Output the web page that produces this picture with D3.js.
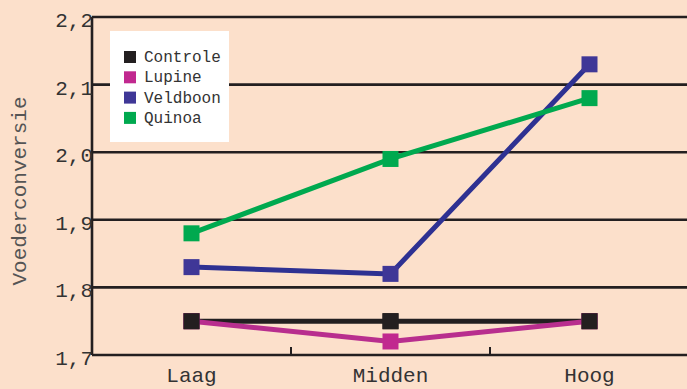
<!DOCTYPE html>
<html>
<head>
<meta charset="utf-8">
<script src="https://cdn.jsdelivr.net/npm/d3@7"></script>
<style>
  body { margin: 0; background: #fce0cb; }
  svg { display: block; }
  text { font-family: "Liberation Mono", "DejaVu Sans Mono", monospace; fill: #333; }
</style>
</head>
<body>
<div id="chart"></div>
<script>
const categories = ['Laag', 'Midden', 'Hoog'];
const seriesNames = ['Controle', 'Lupine', 'Veldboon', 'Quinoa'];
const controle = [1.75, 1.75, 1.75];
const lupine = [1.75, 1.72, 1.75];
const veldboon = [1.83, 1.82, 2.13];
const quinoa = [1.88, 1.99, 2.08];
const yTicks = [1.7, 1.8, 1.9, 2.0, 2.1, 2.2];
const colors = ['#231f20', '#c1288f', '#3f3797', '#00a94f'];
const lineColors = ['#231f20', '#b82e8e', '#2e3192', '#00a94f'];

const series = [controle, lupine, veldboon, quinoa].map((values, i) => ({
  name: seriesNames[i], values, color: colors[i], line: lineColors[i]
}));

const width = 687, height = 389;
const margin = { top: 17, right: -2, bottom: 34, left: 92 };

const svg = d3.select('#chart').append('svg')
  .attr('width', width).attr('height', height);

svg.append('rect').attr('width', width).attr('height', height).attr('fill', '#fce0cb');

const x = d3.scaleBand().domain(categories)
  .range([margin.left, width - margin.right]);
const y = d3.scaleLinear().domain([1.7, 2.2])
  .range([height - margin.bottom, margin.top]);

const fmt = d => d3.format('.1f')(d).replace('.', ',');

// gridlines
svg.append('g').selectAll('line').data(yTicks).join('line')
  .attr('x1', margin.left).attr('x2', width)
  .attr('y1', d => y(d)).attr('y2', d => y(d))
  .attr('stroke', '#231f20').attr('stroke-width', 2.6);

// y axis line
svg.append('line')
  .attr('x1', margin.left).attr('x2', margin.left)
  .attr('y1', y(2.2)).attr('y2', y(1.7))
  .attr('stroke', '#231f20').attr('stroke-width', 2.6);

// y tick labels
svg.append('g').selectAll('text').data(yTicks).join('text')
  .attr('x', margin.left + 1).attr('y', d => y(d) + 10)
  .attr('text-anchor', 'end')
  .style('font-size', '21px')
  .text(fmt);

// x ticks between bands
svg.append('g').selectAll('line').data(categories.slice(1)).join('line')
  .attr('x1', d => x(d)).attr('x2', d => x(d))
  .attr('y1', y(1.7)).attr('y2', y(1.7) - 8)
  .attr('stroke', '#231f20').attr('stroke-width', 2);

svg.append('g').selectAll('text').data(categories).join('text')
  .attr('x', d => x(d) + x.bandwidth() / 2).attr('y', 382)
  .attr('text-anchor', 'middle')
  .style('font-size', '21px')
  .text(d => d);

// y label
svg.append('text')
  .attr('transform', 'translate(26,191) rotate(-90)')
  .attr('text-anchor', 'middle')
  .style('font-size', '21px')
  .style('fill', '#555')
  .text('Voederconversie');

// lines
const cx = d => x(d) + x.bandwidth() / 2;
const line = d3.line().x((v, i) => cx(categories[i])).y(v => y(v));

const g = svg.append('g');
g.selectAll('path').data(series).join('path')
  .attr('d', s => line(s.values))
  .attr('fill', 'none')
  .attr('stroke', s => s.line)
  .attr('stroke-width', 5);

// markers (drawn per series in order so later series sit on top)
series.forEach(s => {
  g.append('g').selectAll('rect').data(s.values).join('rect')
    .attr('x', (v, i) => cx(categories[i]) - 8)
    .attr('y', v => y(v) - 8)
    .attr('width', 16).attr('height', 16)
    .attr('fill', s.color);
});
// controle markers on top (as in reference)
g.append('g').selectAll('rect').data(controle).join('rect')
  .attr('x', (v, i) => cx(categories[i]) - 8)
  .attr('y', v => y(v) - 8)
  .attr('width', 16).attr('height', 16)
  .attr('fill', colors[0]);

// legend
const legend = svg.append('g');
legend.append('rect')
  .attr('x', 110).attr('y', 31).attr('width', 119).attr('height', 111)
  .attr('fill', '#fff');
const items = legend.selectAll('g').data(series).join('g')
  .attr('transform', (d, i) => `translate(124,${57 + i * 20.3})`);
items.append('rect')
  .attr('x', 0).attr('y', -6).attr('width', 12).attr('height', 12)
  .attr('fill', d => d.color);
items.append('text')
  .attr('x', 20).attr('y', 5)
  .style('font-size', '16px')
  .text(d => d.name);
</script>
</body>
</html>
